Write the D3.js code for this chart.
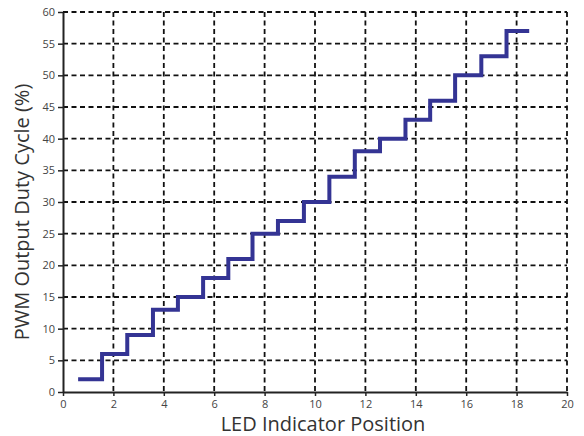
<!DOCTYPE html>
<html>
<head>
<meta charset="utf-8">
<script src="https://cdn.jsdelivr.net/npm/d3@7"></script>
<style>
  body { margin: 0; background: #fff; }
  text { font-family: "Open Sans", "Noto Sans", sans-serif; }
</style>
</head>
<body>
<div id="chart"></div>
<script>
// step edges (left edge of each level) and duty cycle held over it
const stepStart = [0.6, 1.55, 2.55, 3.57, 4.56, 5.56, 6.56, 7.52, 8.53, 9.56, 10.57, 11.58, 12.58, 13.59, 14.57, 15.56, 16.6, 17.6];
const stepEnd = 18.5;
const duty = [2, 6, 9, 13, 15, 18, 21, 25, 27, 30, 34, 38, 40, 43, 46, 50, 53, 57];
const xTicks = [0, 2, 4, 6, 8, 10, 12, 14, 16, 18, 20];
const yTicks = [0, 5, 10, 15, 20, 25, 30, 35, 40, 45, 50, 55, 60];

const W = 584, H = 436;
const margin = { top: 12, right: 17, bottom: 44, left: 63 };
const width = W - margin.left - margin.right;
const height = H - margin.top - margin.bottom;

const svg = d3.select("#chart")
    .append("svg")
    .attr("width", W)
    .attr("height", H);

const g = svg.append("g")
    .attr("transform", `translate(${margin.left},${margin.top})`);

const x = d3.scaleLinear().domain([0, 20]).range([0, width]);
const y = d3.scaleLinear().domain([0, 60]).range([height, 0]);

// grid
g.append("g")
    .selectAll("line")
    .data(yTicks.filter(d => d > 0))
    .join("line")
    .attr("x1", 0).attr("x2", width)
    .attr("y1", d => y(d)).attr("y2", d => y(d))
    .attr("stroke", "#111")
    .attr("stroke-width", 1.8)
    .attr("stroke-dasharray", "5,3.5");

g.append("g")
    .selectAll("line")
    .data(xTicks.filter(d => d > 0))
    .join("line")
    .attr("x1", d => x(d)).attr("x2", d => x(d))
    .attr("y1", 0).attr("y2", height)
    .attr("stroke", "#111")
    .attr("stroke-width", 1.8)
    .attr("stroke-dasharray", "5,3.5");

// axes
const xAxis = g.append("g")
    .attr("transform", `translate(0,${height})`)
    .call(d3.axisBottom(x).tickValues(xTicks).tickSize(4).tickPadding(4).tickSizeOuter(0));
const yAxis = g.append("g")
    .call(d3.axisLeft(y).tickValues(yTicks).tickSize(5).tickPadding(3).tickSizeOuter(0));

[xAxis, yAxis].forEach(a => {
    a.select(".domain").attr("stroke", "#222").attr("stroke-width", 2);
    a.selectAll(".tick line").attr("stroke", "#222").attr("stroke-width", 1.5);
    a.selectAll(".tick text").attr("fill", "#444").style("font-size", "11px");
});

// step line
const pts = duty.map((d, i) => [stepStart[i], d]);
pts.push([stepEnd, duty[duty.length - 1]]);

const line = d3.line()
    .x(d => x(d[0]))
    .y(d => y(d[1]))
    .curve(d3.curveStepAfter);

g.append("path")
    .datum(pts)
    .attr("d", line)
    .attr("fill", "none")
    .attr("stroke", "#343494")
    .attr("stroke-width", 4)
    .attr("stroke-linejoin", "miter")
    .attr("stroke-linecap", "butt");

// titles
svg.append("text")
    .attr("x", margin.left + width / 2 + 8)
    .attr("y", 431)
    .attr("text-anchor", "middle")
    .attr("fill", "#333")
    .style("font-size", "20px")
    .text("LED Indicator Position");

svg.append("text")
    .attr("transform", `translate(29,${margin.top + height / 2 + 10}) rotate(-90)`)
    .attr("text-anchor", "middle")
    .attr("fill", "#333")
    .style("font-size", "20px")
    .text("PWM Output Duty Cycle (%)");
</script>
</body>
</html>
